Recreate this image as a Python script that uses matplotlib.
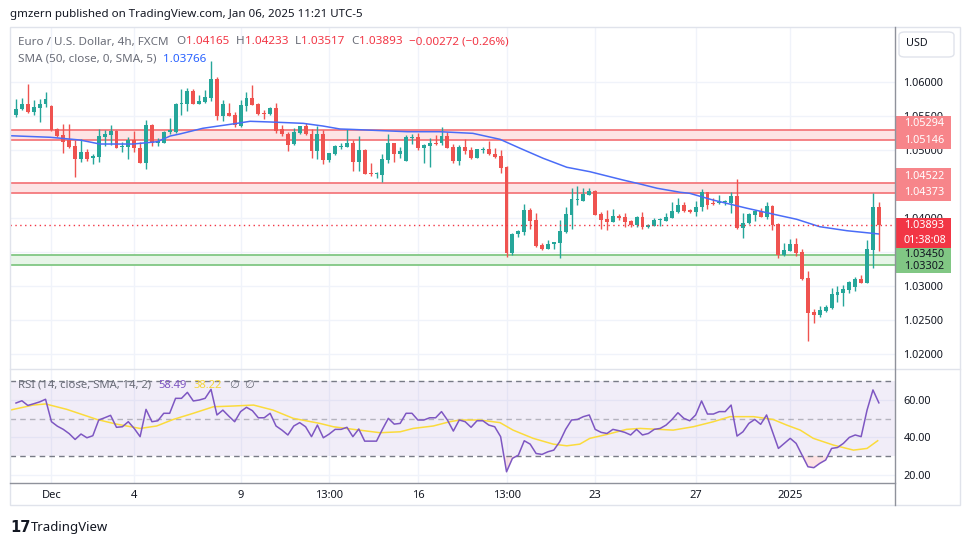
import matplotlib
matplotlib.use("Agg")
import matplotlib.pyplot as plt
import matplotlib.patches as mpatches
import matplotlib.transforms as mtransforms
from matplotlib.lines import Line2D
import numpy as np

FAM = ["Noto Sans", "DejaVu Sans"]
plt.rcParams["font.family"] = FAM

# EUR/USD 4h, FXCM
opens = [1.05515, 1.05598, 1.05676, 1.05563, 1.05622, 1.05672, 1.05647, 1.05313, 1.05216, 1.05147,
         1.05059, 1.04863, 1.04971, 1.04878, 1.04902, 1.05196, 1.05225, 1.05279, 1.05049, 1.05049,
         1.05143, 1.05025, 1.04813, 1.05368, 1.05098, 1.05107, 1.05269, 1.05269, 1.05672, 1.05676,
         1.05867, 1.05681, 1.05710, 1.05769, 1.06044, 1.05504, 1.05548, 1.05515, 1.05357, 1.05651,
         1.05769, 1.05676, 1.05548, 1.05525, 1.05613, 1.05309, 1.05235, 1.05084, 1.05245, 1.05353,
         1.05235, 1.04990, 1.05235, 1.04853, 1.04941, 1.05049, 1.05049, 1.05103, 1.04828, 1.05000,
         1.04662, 1.04643, 1.04637, 1.04853, 1.05103, 1.04946, 1.04838, 1.05176, 1.05191, 1.05034,
         1.05063, 1.05098, 1.05098, 1.05206, 1.05040, 1.04843, 1.05040, 1.05000, 1.04887, 1.05000,
         1.05010, 1.04941, 1.04912, 1.04746, 1.03490, 1.03761, 1.03799, 1.04118, 1.03971, 1.03603,
         1.03545, 1.03614, 1.03628, 1.03799, 1.04045, 1.04269, 1.04255, 1.04343, 1.04397, 1.04059,
         1.03986, 1.03946, 1.04030, 1.04015, 1.03961, 1.03898, 1.04015, 1.03864, 1.03887, 1.03966,
         1.03956, 1.04005, 1.04093, 1.04192, 1.04118, 1.04084, 1.04158, 1.04378, 1.04211, 1.04216,
         1.04231, 1.04225, 1.04324, 1.03858, 1.03922, 1.04045, 1.04103, 1.04020, 1.04177, 1.03912,
         1.03456, 1.03520, 1.03618, 1.03496, 1.03118, 1.02619, 1.02579, 1.02633, 1.02682, 1.02869,
         1.02902, 1.02942, 1.02990, 1.03104, 1.03049, 1.03530, 1.04165]
highs = [1.05745, 1.05760, 1.05970, 1.05735, 1.05745, 1.05853, 1.05660, 1.05328, 1.05378, 1.05378,
         1.05147, 1.05157, 1.05010, 1.04941, 1.05304, 1.05294, 1.05363, 1.05294, 1.05122, 1.05196,
         1.05284, 1.05113, 1.05441, 1.05382, 1.05172, 1.05284, 1.05466, 1.05695, 1.05892, 1.05907,
         1.05892, 1.05809, 1.05882, 1.06308, 1.06078, 1.05735, 1.05695, 1.05563, 1.05735, 1.05853,
         1.05956, 1.05686, 1.05588, 1.05637, 1.05686, 1.05368, 1.05269, 1.05319, 1.05357, 1.05392,
         1.05304, 1.05357, 1.05294, 1.04955, 1.05074, 1.05098, 1.05304, 1.05147, 1.05206, 1.05010,
         1.04804, 1.04681, 1.04941, 1.05235, 1.05107, 1.05049, 1.05216, 1.05235, 1.05254, 1.05084,
         1.05172, 1.05221, 1.05343, 1.05269, 1.05088, 1.05074, 1.05162, 1.05040, 1.05019, 1.05049,
         1.05137, 1.05025, 1.05000, 1.04765, 1.03784, 1.03824, 1.04206, 1.04143, 1.04070, 1.03628,
         1.03677, 1.03650, 1.03971, 1.04167, 1.04446, 1.04471, 1.04446, 1.04446, 1.04412, 1.04093,
         1.04118, 1.04128, 1.04059, 1.04078, 1.03971, 1.04030, 1.04084, 1.03912, 1.04005, 1.03996,
         1.04078, 1.04231, 1.04290, 1.04240, 1.04137, 1.04255, 1.04427, 1.04388, 1.04299, 1.04338,
         1.04265, 1.04383, 1.04574, 1.04078, 1.04078, 1.04118, 1.04143, 1.04240, 1.04187, 1.03931,
         1.03628, 1.03692, 1.03702, 1.03545, 1.03226, 1.02658, 1.02707, 1.02722, 1.02976, 1.03001,
         1.03016, 1.03079, 1.03129, 1.03163, 1.03677, 1.04363, 1.04233]
lows = [1.05490, 1.05588, 1.05539, 1.05515, 1.05416, 1.05637, 1.05284, 1.05187, 1.04960, 1.05025,
        1.04608, 1.04828, 1.04838, 1.04799, 1.04828, 1.05063, 1.05074, 1.05025, 1.04975, 1.04868,
        1.04975, 1.04804, 1.04725, 1.05063, 1.05063, 1.05098, 1.05235, 1.05245, 1.05515, 1.05578,
        1.05672, 1.05675, 1.05695, 1.05725, 1.05441, 1.05431, 1.05500, 1.05334, 1.05343, 1.05578,
        1.05655, 1.05515, 1.05460, 1.05515, 1.05245, 1.05206, 1.04990, 1.05074, 1.05235, 1.05221,
        1.04878, 1.04868, 1.04794, 1.04824, 1.04927, 1.05010, 1.05040, 1.04696, 1.04696, 1.04647,
        1.04618, 1.04584, 1.04534, 1.04804, 1.04819, 1.04887, 1.04835, 1.05088, 1.05000, 1.04813,
        1.04746, 1.05074, 1.05074, 1.05025, 1.04804, 1.04775, 1.04941, 1.04868, 1.04878, 1.04951,
        1.04927, 1.04887, 1.04666, 1.03423, 1.03456, 1.03717, 1.03750, 1.03839, 1.03578, 1.03530,
        1.03540, 1.03545, 1.03417, 1.03776, 1.03839, 1.04192, 1.04250, 1.04338, 1.04045, 1.03839,
        1.03824, 1.03937, 1.03971, 1.03872, 1.03872, 1.03872, 1.03834, 1.03853, 1.03883, 1.03883,
        1.03950, 1.03996, 1.04070, 1.04093, 1.04070, 1.04034, 1.04108, 1.04133, 1.04198, 1.04212,
        1.04192, 1.04078, 1.03839, 1.03711, 1.03912, 1.03961, 1.04011, 1.03986, 1.03824, 1.03417,
        1.03442, 1.03515, 1.03442, 1.03090, 1.02197, 1.02461, 1.02550, 1.02614, 1.02663, 1.02770,
        1.02711, 1.02902, 1.02932, 1.03040, 1.03040, 1.03270, 1.03517]
closes = [1.05598, 1.05676, 1.05563, 1.05628, 1.05676, 1.05750, 1.05294, 1.05210, 1.05122, 1.05049,
          1.04863, 1.04971, 1.04872, 1.04916, 1.05201, 1.05235, 1.05279, 1.05034, 1.05059, 1.05143,
          1.05025, 1.04813, 1.05368, 1.05098, 1.05128, 1.05265, 1.05290, 1.05681, 1.05681, 1.05867,
          1.05676, 1.05720, 1.05779, 1.06044, 1.05504, 1.05681, 1.05504, 1.05368, 1.05662, 1.05769,
          1.05662, 1.05525, 1.05529, 1.05622, 1.05279, 1.05235, 1.05078, 1.05269, 1.05353, 1.05231,
          1.04990, 1.05235, 1.04853, 1.04951, 1.05059, 1.05059, 1.05103, 1.04828, 1.05000, 1.04652,
          1.04652, 1.04652, 1.04863, 1.05103, 1.04941, 1.04985, 1.05196, 1.05187, 1.05034, 1.05069,
          1.05103, 1.05088, 1.05206, 1.05034, 1.04843, 1.05049, 1.04985, 1.04887, 1.05010, 1.05010,
          1.04937, 1.04902, 1.04740, 1.03490, 1.03765, 1.03809, 1.04118, 1.03961, 1.03593, 1.03545,
          1.03618, 1.03643, 1.03809, 1.04059, 1.04280, 1.04280, 1.04353, 1.04397, 1.04049, 1.03971,
          1.03946, 1.04030, 1.04005, 1.03946, 1.03898, 1.04015, 1.03864, 1.03898, 1.03971, 1.03975,
          1.04020, 1.04103, 1.04192, 1.04108, 1.04084, 1.04167, 1.04378, 1.04192, 1.04202, 1.04240,
          1.04245, 1.04324, 1.03853, 1.03922, 1.04059, 1.04103, 1.04020, 1.04177, 1.03898, 1.03456,
          1.03530, 1.03618, 1.03490, 1.03104, 1.02608, 1.02579, 1.02648, 1.02697, 1.02883, 1.02913,
          1.02957, 1.03064, 1.03104, 1.03049, 1.03545, 1.04162, 1.03893]

# SMA(50) lida em pontos do grafico (posicao do candle, valor)
sma_x = [-1.0, 5.8, 10.8, 14.2, 19.8, 23.9, 26.1, 27.7, 31.6, 37.4, 39.6, 43.0, 48.6, 51.9, 54.8,
         56.5, 60.4, 66.2, 71.7, 77.3, 81.9, 85.3, 89.2, 93.2, 97.1, 102.7, 105.6, 108.5, 112.4,
         114.0, 117.9, 123.7, 129.3, 132.1, 136.0, 140.6, 145.9]
sma_vals = [1.05210, 1.05187, 1.05147, 1.05088, 1.05088, 1.05122, 1.05206, 1.05235, 1.05319, 1.05392,
            1.05422, 1.05412, 1.05392, 1.05353, 1.05309, 1.05304, 1.05290, 1.05269, 1.05269, 1.05245,
            1.05157, 1.05025, 1.04878, 1.04746, 1.04681, 1.04559, 1.04500, 1.04437, 1.04378, 1.04363,
            1.04265, 1.04143, 1.04034, 1.03981, 1.03872, 1.03813, 1.03766]

rsi = [58.4, 59.6, 57.1, 58.0, 59.0, 60.4, 48.4, 46.0, 44.3, 42.0, 38.9, 41.8, 39.8, 40.9, 49.3,
       50.5, 51.8, 45.4, 45.7, 48.4, 44.8, 40.4, 55.0, 48.4, 48.9, 52.9, 52.9, 60.9, 60.9, 64.1,
       59.5, 60.0, 60.9, 65.7, 52.0, 54.6, 51.4, 48.4, 53.8, 56.1, 54.3, 50.5, 50.5, 52.9, 46.1,
       43.9, 41.3, 46.1, 47.9, 45.7, 40.4, 46.6, 39.8, 41.8, 44.3, 44.3, 45.4, 40.4, 44.5, 38.0,
       38.0, 38.0, 44.3, 50.2, 47.1, 47.5, 52.9, 52.9, 49.3, 49.3, 50.5, 50.5, 53.8, 49.3, 43.4,
       49.3, 48.4, 45.4, 48.9, 48.9, 46.6, 45.7, 40.4, 21.6, 28.8, 30.5, 38.2, 36.4, 31.4, 30.9,
       32.3, 33.2, 37.7, 44.3, 49.3, 49.6, 51.1, 52.0, 44.3, 42.7, 42.1, 44.3, 43.6, 42.7, 41.3,
       44.3, 41.3, 42.1, 44.3, 44.8, 46.6, 49.6, 53.2, 50.2, 48.9, 52.0, 59.5, 52.5, 52.5, 53.8,
       53.8, 57.3, 40.7, 43.0, 47.5, 49.6, 47.0, 52.0, 43.0, 34.1, 36.8, 39.5, 36.8, 30.5, 24.3,
       23.8, 26.1, 27.9, 34.1, 34.6, 36.8, 40.0, 41.3, 40.4, 54.6, 65.4, 58.49]

rsi_ma_x = [-1.0, 2.9, 5.0, 8.6, 13.7, 17.0, 21.0, 23.8, 26.6, 30.0, 33.4, 36.8, 40.2, 43.5, 46.9,
            51.4, 53.7, 57.1, 61.6, 65.0, 67.2, 70.6, 73.4, 75.1, 78.5, 81.9, 84.1, 87.5, 90.9,
            93.2, 95.4, 97.1, 100.0, 103.3, 105.6, 111.2, 114.6, 118.0, 120.8, 124.8, 128.1,
            130.4, 132.7, 134.9, 138.3, 141.7, 144.0, 145.8]
rsi_ma = [54.6, 57.3, 57.9, 55.0, 49.6, 47.1, 44.8, 46.1, 49.6, 52.9, 56.4, 56.8, 57.3, 54.6, 50.2,
          47.5, 45.7, 44.3, 42.5, 43.0, 44.8, 46.1, 48.4, 49.3, 49.3, 47.9, 43.9, 39.5, 36.4,
          35.5, 36.4, 39.5, 41.6, 44.3, 44.8, 43.9, 45.7, 48.4, 51.1, 51.1, 49.6,
          46.6, 43.9, 39.5, 35.9, 33.2, 34.1, 38.22]

red_zones = [(1.05146, 1.05294), (1.04373, 1.04522)]
green_zone = (1.03302, 1.03450)
last_price = 1.03893
countdown = "01:38:08"
sma_last = 1.03766
change_txt = "\u22120.00272 (\u22120.26%)"

price_ticks = [1.02, 1.025, 1.03, 1.035, 1.04, 1.045, 1.05, 1.055, 1.06]
hidden_ticks = [1.035, 1.045]   # ficam atras das caixas de preco
rsi_ticks = [20, 40, 60]
xtick_idx = [6, 20, 38, 53, 68, 83, 98, 115, 131]
xtick_lbl = ["Dec", "4", "9", "13:00", "16", "13:00", "23", "27", "2025"]

GREEN = "#26a69a"
RED = "#ef5350"
GRID = "#f0f3fa"
TXT = "#131722"
GREY = "#6a6d78"

W, H = 970, 545
fig = plt.figure(figsize=(W / 100, H / 100), dpi=100)


def frac(x0, y0, x1, y1):
    return [x0 / W, 1 - y1 / H, (x1 - x0) / W, (y1 - y0) / H]


def fline(x0, y0, x1, y1, color, lw=1.0):
    fig.add_artist(Line2D([x0 / W, x1 / W], [1 - y0 / H, 1 - y1 / H],
                          color=color, lw=lw, transform=fig.transFigure))


ax = fig.add_axes(frac(10, 28, 895, 369))
ax2 = fig.add_axes(frac(10, 369, 895, 483))

for a in (ax, ax2):
    a.set_xlim(-1.015, 148.73)
    for s in a.spines.values():
        s.set_visible(False)
    a.set_xticks(xtick_idx)
    a.grid(True, color=GRID, lw=1)
    a.set_axisbelow(True)
    a.yaxis.tick_right()
    a.tick_params(length=0, labelsize=7.8, labelcolor=TXT)
    a.tick_params(axis="y", pad=6)

ax.set_ylim(1.017794, 1.067941)
ax.set_yticks(price_ticks)
ax.set_yticklabels(["" if v in hidden_ticks else f"{v:.5f}" for v in price_ticks])
ax.tick_params(axis="x", labelbottom=False)

# zonas
for lo_, hi_ in red_zones:
    ax.axhspan(lo_, hi_, color="#fde4e5", lw=0, zorder=1.5)
    for v in (lo_, hi_):
        ax.axhline(v, color="#f4797d", lw=1.3, zorder=2)
ax.axhspan(green_zone[0], green_zone[1], color="#e7f5e8", lw=0, zorder=1.5)
for v in green_zone:
    ax.axhline(v, color="#81c784", lw=1.3, zorder=2)

# candles
o = np.array(opens)
c = np.array(closes)
hi = np.array(highs)
lo = np.array(lows)
idx = np.arange(len(c))
cols = np.where(c >= o, GREEN, RED)
ax.vlines(idx, lo, hi, colors=cols, lw=1.0, zorder=3)
body = np.maximum(np.abs(c - o), 0.00012)
ax.bar(idx, body, bottom=np.minimum(o, c), width=0.66, color=cols, lw=0, zorder=4)

ax.plot(sma_x, sma_vals, color="#4a6cf7", lw=1.1, zorder=5)
ax.axhline(last_price, color="#f23645", lw=1, ls=(0, (1, 2.5)), zorder=5)

# RSI
rs = np.array(rsi)
ax2.set_ylim(15.6, 76.6)
ax2.set_yticks(rsi_ticks)
ax2.set_yticklabels([f"{v:.2f}" for v in rsi_ticks])
ax2.set_xticklabels(xtick_lbl)
ax2.tick_params(axis="x", pad=5, labelsize=8)
ax2.axhspan(30, 70, color="#7e57c2", alpha=0.1, lw=0)
ax2.axhline(70, color="#787b86", lw=1, ls=(0, (4, 3)))
ax2.axhline(30, color="#787b86", lw=1, ls=(0, (4, 3)))
ax2.axhline(50, color="#787b86", lw=1, ls=(0, (4, 3)), alpha=0.5)
ax2.fill_between(idx, rs, 30, where=rs < 30, interpolate=True, color="#f23645", alpha=0.14, lw=0)
ax2.plot(rsi_ma_x, rsi_ma, color="#fbdb3c", lw=1.1)
ax2.plot(idx, rs, color="#7e57c2", lw=1.1)

# caixas de preco na escala
ppu = ax.bbox.height / (ax.get_ylim()[1] - ax.get_ylim()[0])
btr = mtransforms.blended_transform_factory(ax.transAxes, ax.transData)
bw = 56 / 885
tx = 1.0 + 9 / 885


def price_box(center, h_px, face, rows, tcolor):
    ax.add_patch(mpatches.Rectangle((1.0, center - h_px / 2 / ppu), bw, h_px / ppu,
                                    transform=btr, clip_on=False, facecolor=face,
                                    edgecolor="none", zorder=8))
    for txt, dy in rows:
        ax.text(tx, center - dy / ppu, txt, transform=btr, clip_on=False, color=tcolor,
                fontsize=7.8, va="center", ha="left", zorder=9)


for lo_, hi_ in red_zones:
    mid = (lo_ + hi_) / 2 + 3 / ppu
    price_box(mid, 33, "#f7858a", [(f"{hi_:.5f}", -8.3), (f"{lo_:.5f}", 8.3)], "white")
gmid = sum(green_zone) / 2
price_box(gmid, 25, "#81c784", [(f"{green_zone[1]:.5f}", -6.3), (f"{green_zone[0]:.5f}", 6.3)], TXT)
price_box(last_price - 7.7 / ppu, 30, "#f23645", [(f"{last_price:.5f}", -7.7), (countdown, 7.7)], "white")

# moldura
fig.add_artist(mpatches.Rectangle((10 / W, 1 - 505 / H), 950 / W, 478 / H, transform=fig.transFigure,
                                  fill=False, edgecolor="#e0e3eb", lw=1))
fline(10, 369, 960, 369, "#e0e3eb")
fline(10, 483, 895, 483, "#8f929b")
fline(895, 27, 895, 505, "#8f929b")
fig.add_artist(mpatches.FancyBboxPatch((899 / W, 1 - 57 / H), 55 / W, 25 / H,
                                       boxstyle="round,pad=0,rounding_size=0.006",
                                       transform=fig.transFigure, facecolor="white",
                                       edgecolor="#e0e3eb", lw=1))
fig.text(906 / W, 1 - 44 / H, "USD", fontsize=7.8, color=TXT, va="center")

# textos
renderer = fig.canvas.get_renderer()


def seq_text(x_px, y_px, parts, size=8.4):
    x = x_px
    for txt, color, gap in parts:
        t = fig.text(x / W, 1 - y_px / H, txt, color=color, fontsize=size, va="center", ha="left")
        x += t.get_window_extent(renderer=renderer).width + gap


fig.text(10 / W, 1 - 14 / H, "gmzern published on TradingView.com, Jan 06, 2025 11:21 UTC-5",
         fontsize=8.3, color=TXT, va="center")
vr = "#f23645"
seq_text(18, 42, [("Euro / U.S. Dollar, 4h, FXCM", GREY, 8), ("O", GREY, 0), (f"{opens[-1]:.5f}", vr, 7),
                  ("H", GREY, 0), (f"{highs[-1]:.5f}", vr, 7), ("L", GREY, 0), (f"{lows[-1]:.5f}", vr, 7),
                  ("C", GREY, 0), (f"{closes[-1]:.5f}", vr, 7), (change_txt, vr, 0)])
seq_text(18, 59, [("SMA (50, close, 0, SMA, 5)", GREY, 7), (f"{sma_last:.5f}", "#2962ff", 0)])
seq_text(18, 385, [("RSI (14, close, SMA, 14, 2)", GREY, 7), (f"{rsi[-1]:.2f}", "#7e57c2", 7),
                   (f"{rsi_ma[-1]:.2f}", "#f5d63a", 7), ("\u2205", GREY, 6), ("\u2205", GREY, 0)],
         size=8.1)

fig.text(10 / W, 1 - 527 / H, "17", fontsize=10.5, fontweight="heavy", color=TXT, va="center",
         family="DejaVu Sans")
fig.text(31 / W, 1 - 527 / H, "TradingView", fontsize=9.5, color=TXT, va="center")

fig.savefig("out.png", dpi=100)
